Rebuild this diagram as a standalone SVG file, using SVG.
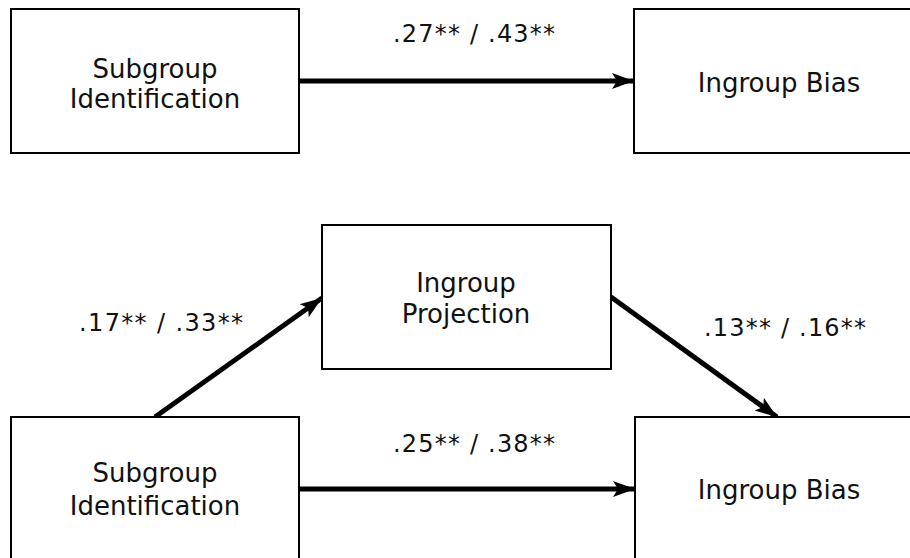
<svg xmlns="http://www.w3.org/2000/svg" width="910" height="558" viewBox="0 0 910 558">
<style>
.box{fill:#fff;stroke:#000;stroke-width:2}
.t{font-family:"DejaVu Sans",Verdana,sans-serif;font-size:26px;fill:#111;text-anchor:middle}
.l{font-family:"DejaVu Sans",Verdana,sans-serif;font-size:24px;fill:#111;text-anchor:middle}
.c{stroke:#000;stroke-width:5;fill:none;marker-end:url(#ah)}
</style>
<defs>
<marker id="ah" markerUnits="userSpaceOnUse" markerWidth="24" markerHeight="18" refX="22" refY="8" orient="auto" viewBox="0 0 24 16">
<path d="M0,0 L22,8 L0,16 L5,8 Z" fill="#000"/>
</marker>
</defs>
<rect width="910" height="558" fill="#fff"/>
<g id="connectors">
<line class="c" x1="299" y1="81" x2="634" y2="81"/>
<line class="c" x1="155" y1="417" x2="322" y2="298"/>
<line class="c" x1="611" y1="297" x2="777" y2="417"/>
<line class="c" x1="299" y1="489" x2="635" y2="489"/>
</g>
<g id="n-sub1">
<rect class="box" x="11" y="9" width="288" height="144"/>
<text class="t" x="155" y="78">Subgroup</text>
<text class="t" x="155" y="108">Identification</text>
</g>
<g id="n-bias1">
<rect class="box" x="634" y="9" width="290" height="144"/>
<text class="t" x="779" y="92">Ingroup Bias</text>
</g>
<g id="n-proj">
<rect class="box" x="322" y="225" width="289" height="144"/>
<text class="t" x="466" y="292">Ingroup</text>
<text class="t" x="466" y="323">Projection</text>
</g>
<g id="n-sub2">
<rect class="box" x="11" y="417" width="288" height="160"/>
<text class="t" x="155" y="482">Subgroup</text>
<text class="t" x="155" y="515">Identification</text>
</g>
<g id="n-bias2">
<rect class="box" x="635" y="417" width="290" height="160"/>
<text class="t" x="779" y="499">Ingroup Bias</text>
</g>
<g id="labels">
<text class="l" x="474" y="42" textLength="162" lengthAdjust="spacing">.27** / .43**</text>
<text class="l" x="161" y="331" textLength="164" lengthAdjust="spacing">.17** / .33**</text>
<text class="l" x="785" y="336" textLength="162" lengthAdjust="spacing">.13** / .16**</text>
<text class="l" x="474" y="452" textLength="162" lengthAdjust="spacing">.25** / .38**</text>
</g>
</svg>
